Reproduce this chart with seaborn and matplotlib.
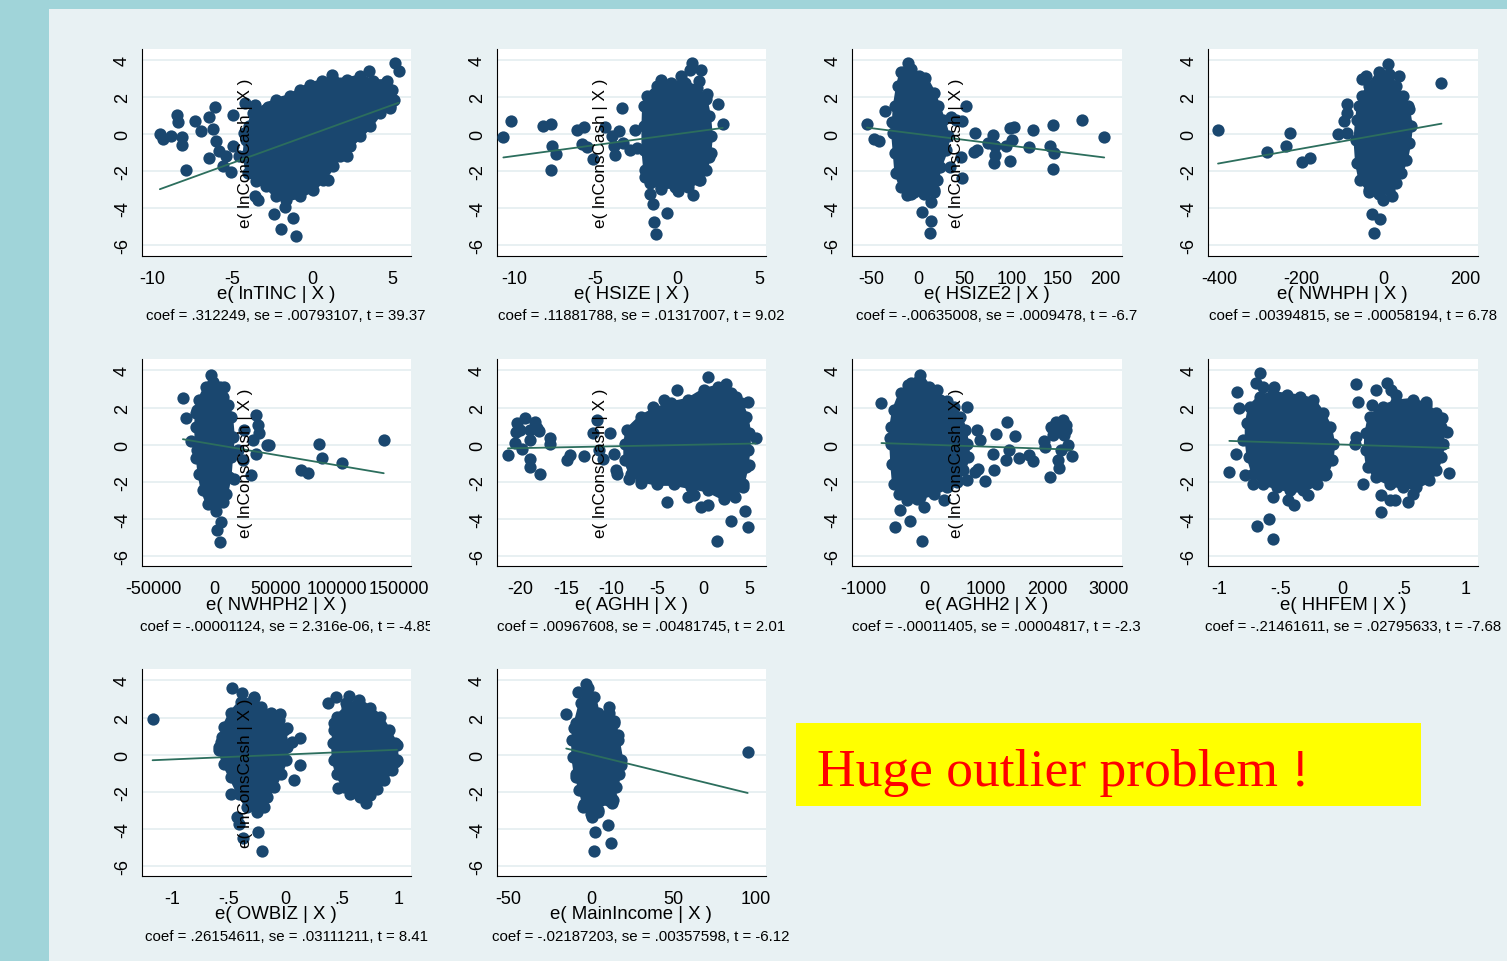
import matplotlib
matplotlib.use("Agg")
import matplotlib.pyplot as plt
from matplotlib.patches import Rectangle
from matplotlib.transforms import Bbox
import pandas as pd
import seaborn as sns

# ---------------------------------------------------------------------------
# Added-variable plots: e(lnConsCash | X) against e(regressor | X)
# ---------------------------------------------------------------------------
regressors = ["lnTINC", "HSIZE", "HSIZE2", "NWHPH", "NWHPH2",
              "AGHH", "AGHH2", "HHFEM", "OWBIZ", "MainIncome"]

coef_values = [0.312249, 0.11881788, -0.00635008, 0.00394815, -0.00001124,
               0.00967608, -0.00011405, -0.21461611, 0.26154611, -0.02187203]
coef_text = [".312249", ".11881788", "-.00635008", ".00394815", "-.00001124",
             ".00967608", "-.00011405", "-.21461611", ".26154611", "-.02187203"]
se_text = [".00793107", ".01317007", ".0009478", ".00058194", "2.316e-06",
           ".00481745", ".00004817", ".02795633", ".03111211", ".00357598"]
t_text = ["39.37", "9.02", "-6.7", "6.78", "-4.85",
          "2.01", "-2.3", "-7.68", "8.41", "-6.12"]

x_ticks = [[-10, -5, 0, 5], [-10, -5, 0, 5], [-50, 0, 50, 100, 150, 200],
           [-400, -200, 0, 200], [-50000, 0, 50000, 100000, 150000],
           [-20, -15, -10, -5, 0, 5], [-1000, 0, 1000, 2000, 3000],
           [-1, -0.5, 0, 0.5, 1], [-1, -0.5, 0, 0.5, 1], [-50, 0, 50, 100]]
x_tick_labels = [["-10", "-5", "0", "5"], ["-10", "-5", "0", "5"],
                 ["-50", "0", "50", "100", "150", "200"],
                 ["-400", "-200", "0", "200"],
                 ["-50000", "0", "50000", "100000", "150000"],
                 ["-20", "-15", "-10", "-5", "0", "5"],
                 ["-1000", "0", "1000", "2000", "3000"],
                 ["-1", "-.5", "0", ".5", "1"], ["-1", "-.5", "0", ".5", "1"],
                 ["-50", "0", "50", "100"]]
y_ticks = [-6, -4, -2, 0, 2, 4]
y_tick_labels = ["-6", "-4", "-2", "0", "2", "4"]

# dense cores (outline of the packed residual cloud) and isolated residuals
lnTINC_core = [(-3.93, 0.41), (-3.72, 1.14), (-2.25, 1.86), (-1.41, 2.04), (-0.78, 2.40),
               (-0.15, 2.67), (0.59, 2.85), (1.32, 2.94), (2.16, 2.94), (3.00, 3.12),
               (3.84, 2.85), (4.68, 2.85), (5.00, 2.40), (5.10, 1.86), (4.89, 1.50),
               (4.26, 1.14), (3.63, 0.41), (3.00, -0.13), (2.37, -0.67), (1.74, -1.21),
               (1.32, -1.75), (0.69, -2.47), (0.06, -3.01), (-0.78, -3.37), (-1.62, -3.55),
               (-2.25, -3.37), (-2.88, -2.83), (-3.51, -2.56), (-4.03, -2.11), (-4.24, -1.21),
               (-4.14, -0.31)]
lnTINC_other = [(-9.54, 0.00), (-9.33, -0.27), (-8.87, -0.13), (-8.45, 1.05), (-8.38, 0.63),
                (-8.13, -0.18), (-8.17, -0.61), (-7.92, -1.93), (-7.35, 0.72), (-6.97, 0.18),
                (-6.49, 0.92), (-6.07, 1.46), (-6.45, -1.30), (-6.24, 0.27), (-6.03, -0.40),
                (-5.82, -0.94), (-5.61, -1.75), (-4.98, 1.05), (-5.08, -2.07), (-3.61, 1.58),
                (-3.40, 0.95), (-2.77, 1.46), (-4.20, 1.68), (-3.61, -3.37), (-3.40, -3.55),
                (-2.39, -4.32), (-1.97, -5.13), (-1.20, -4.54), (-0.99, -5.53), (-1.72, -3.95),
                (1.26, 3.21), (3.57, 3.39), (5.21, 3.84), (5.42, 3.39), (2.16, -1.21),
                (1.00, -2.47), (4.64, 2.76), (4.89, 1.41), (4.26, 1.23), (-4.98, -0.67),
                (-4.56, -1.21), (-5.40, -1.21), (-4.24, 0.05)]

HSIZE_core = [(-1.86, 2.05), (-1.22, 2.60), (-0.38, 2.78), (0.46, 2.78), (1.20, 2.51),
              (1.73, 1.87), (1.94, 0.96), (2.05, -0.13), (1.94, -1.22), (1.73, -1.95),
              (1.41, -2.49), (0.68, -2.85), (-0.17, -2.85), (-1.01, -2.85), (-1.65, -2.67),
              (-1.96, -1.95), (-2.07, -0.85), (-2.07, 0.42), (-2.03, 1.51)]
HSIZE_other = [(-10.65, -0.16), (-10.19, 0.73), (-8.23, 0.45), (-7.76, 0.55), (-7.66, -0.64),
               (-7.45, -1.07), (-7.76, -1.95), (-6.12, 0.24), (-5.70, 0.36), (-5.86, -0.53),
               (-5.55, -0.71), (-5.17, -1.36), (-4.43, 0.38), (-3.38, 1.42), (-3.59, 0.15),
               (-3.97, -0.13), (-3.86, -0.67), (-3.80, -1.13), (-3.33, -0.49), (-2.91, -0.85),
               (-2.59, 0.24), (-2.49, -0.76), (0.89, 3.82), (0.78, 3.45), (1.48, 3.45),
               (1.31, 2.87), (0.21, 3.15), (-1.01, 2.91), (2.47, 1.60), (2.78, 0.55),
               (1.84, 2.15), (2.05, -1.04), (0.04, -3.07), (0.99, -3.31), (1.31, -2.49),
               (-1.96, -2.31), (-1.69, -3.22), (-1.48, -3.76), (-0.63, -4.27), (-1.43, -4.76),
               (-1.33, -5.40), (-1.01, -2.95)]

HSIZE2_core = [(-17.9, 3.33), (-7.6, 3.51), (1.0, 3.15), (7.9, 3.05), (16.6, 2.24),
               (21.7, 1.51), (26.9, 0.78), (32.1, -0.13), (30.3, -0.85), (23.4, -1.76),
               (20.0, -2.49), (16.6, -3.04), (6.2, -3.22), (-7.6, -3.22), (-17.9, -2.85),
               (-23.1, -2.13), (-24.8, -1.04), (-26.6, 0.05), (-24.8, 1.51), (-21.4, 2.60)]
HSIZE2_other = [(-54.8, 0.55), (-47.2, -0.27), (-41.4, -0.40), (-35.2, 1.27), (-28.3, 0.64),
                (-10.3, 3.82), (-14.5, 3.33), (6.9, 2.96), (51.0, 1.51), (46.9, 0.69),
                (61.4, 0.05), (59.7, -0.95), (63.1, -0.85), (80.3, -0.04), (75.2, -0.49),
                (82.1, -0.67), (82.1, -1.13), (81.4, -1.58), (94.1, -0.67), (98.6, 0.33),
                (102.8, 0.38), (101.0, -0.31), (98.6, -1.44), (119.3, -0.71), (122.8, 0.20),
                (141.4, -0.64), (144.8, 0.51), (145.9, -1.04), (144.8, -1.91), (175.9, 0.78),
                (199.3, -0.18), (46.9, -2.40), (33.8, -1.76), (45.9, -1.22), (13.8, -3.67),
                (4.5, -4.22), (13.8, -4.67), (13.1, -5.35), (-11.7, -3.31), (16.6, -3.13),
                (-4.1, -3.13), (35.5, 0.93), (40.7, 0.78)]

NWHPH_core = [(-51, 2.05), (-35, 2.60), (-11, 3.33), (14, 3.24), (30, 2.60), (47, 2.05),
              (59, 1.51), (67, 0.42), (63, -0.49), (55, -1.40), (42, -2.13), (30, -2.67),
              (14, -3.04), (-11, -3.22), (-35, -3.04), (-56, -2.49), (-64, -1.58),
              (-68, -0.31), (-64, 0.78), (-60, 1.51)]
NWHPH_other = [(-404, 0.20), (-284, -0.95), (-238, -0.67), (-229, 0.05), (-198, -1.49),
               (-180, -1.31), (-111, 0.00), (-88, 0.05), (-90, 1.60), (-90, 1.11),
               (-95, 0.69), (-51, 2.96), (-43, 3.15), (12, 3.78), (37, 3.15), (142, 2.75),
               (-27, -4.31), (-8, -4.58), (-23, -5.35), (-2, -3.58), (20, -3.36),
               (-35, -3.13), (63, 1.33), (59, 0.51)]

NWHPH2_core = [(-12200, 2.41), (-6800, 3.13), (-1400, 3.40), (4100, 3.13), (6800, 2.59),
               (10800, 2.14), (13500, 1.50), (14900, 0.42), (13500, -0.67), (12200, -1.76),
               (9500, -2.66), (6800, -3.11), (0, -3.29), (-5400, -3.20), (-9500, -2.48),
               (-12200, -1.57), (-14100, -0.31), (-14900, 0.96), (-14100, 1.86)]
NWHPH2_other = [(-25700, 2.50), (-23500, 1.41), (-18900, 0.20), (-14900, 1.68), (-15400, -0.71),
                (-2700, 3.76), (7600, 3.09), (33800, 1.59), (35100, 1.05), (35900, 0.63),
                (31100, 0.24), (33800, -0.52), (29700, -1.66), (42700, 0.00), (44600, 0.00),
                (70300, -1.36), (76200, -1.54), (85100, 0.05), (87300, -0.71), (104100, -1.00),
                (137800, 0.27), (1400, -3.60), (5400, -4.20), (2200, -4.60), (4100, -5.25),
                (16200, -1.85), (18900, -0.31), (23000, -0.85), (24300, 0.78)]

AGHH_core = [(-8.3, 0.78), (-6.8, 1.50), (-5.4, 1.86), (-3.5, 2.23), (-1.7, 2.41),
             (0.1, 2.95), (1.6, 3.13), (3.0, 2.77), (4.1, 2.23), (4.7, 1.50), (5.0, 0.60),
             (4.9, -0.31), (4.7, -1.21), (4.3, -2.11), (3.4, -2.84), (2.3, -2.93),
             (0.5, -2.48), (-1.4, -2.30), (-3.2, -2.12), (-5.0, -2.12), (-6.8, -1.94),
             (-7.9, -1.57), (-8.5, -0.85), (-8.5, 0.05)]
AGHH_other = [(-21.3, -0.54), (-20.3, 1.14), (-20.4, 0.69), (-20.5, 0.09), (-19.8, -0.22),
              (-19.4, 1.41), (-20.0, 0.78), (-18.9, 0.78), (-18.9, 0.24), (-18.9, -0.76),
              (-18.9, -1.21), (-18.3, 1.23), (-18.1, 0.87), (-17.9, 0.72), (-17.8, -1.57),
              (-16.7, 0.33), (-16.7, 0.05), (-14.9, -0.85), (-14.5, -0.54), (-13.0, -0.63),
              (-11.6, 1.32), (-12.0, 0.60), (-10.2, 0.60), (-10.9, -0.76), (-11.4, -0.31),
              (-9.7, -0.49), (-9.5, -1.36), (-9.4, -1.57), (-8.1, -1.85), (-6.8, -2.08),
              (-5.5, 2.05), (-4.3, 2.41), (-2.9, 2.95), (0.5, 3.67), (2.5, 3.28), (3.6, 2.59),
              (4.9, 2.32), (5.7, 0.33), (5.0, -1.12), (4.3, -2.30), (4.5, -3.57), (4.9, -4.47),
              (3.0, -4.14), (1.5, -5.19), (0.5, -3.29), (-0.3, -3.38), (-4.0, -3.08),
              (-1.7, -2.84), (-1.0, -2.75)]

AGHH2_core = [(-495, 1.86), (-387, 2.77), (-226, 3.31), (-65, 3.76), (70, 3.13), (258, 2.41),
              (473, 2.05), (581, 1.50), (661, 0.78), (688, 0.05), (715, -0.67), (634, -1.39),
              (527, -1.94), (366, -2.30), (151, -2.66), (-65, -2.84), (-280, -2.84),
              (-414, -2.66), (-495, -2.12), (-522, -1.03), (-538, 0.05), (-538, 0.96)]
AGHH2_other = [(-699, 2.26), (-559, 0.33), (-484, -4.47), (-398, -3.53), (-237, -4.14),
               (-38, -5.19), (0, -3.38), (-118, -2.93), (-290, -3.02), (-269, 3.22),
               (204, 2.95), (366, 2.35), (688, 2.01), (323, -3.02), (527, -2.03), (688, -1.94),
               (849, 0.78), (903, 0.27), (984, -1.97), (876, -1.30), (823, -1.48), (1172, 0.56),
               (1118, -0.52), (1344, 1.23), (1323, -0.81), (1376, -0.31), (1467, 0.47),
               (1129, -1.36), (1532, -0.71), (1699, -0.58), (1763, -0.90), (1952, 0.20),
               (1968, -0.13), (2043, -1.76), (2059, 0.96), (2140, 1.23), (2247, 1.32),
               (2301, 1.05), (2194, 0.78), (2086, 0.51), (2274, 0.51), (2301, 0.78),
               (2328, -0.04), (2398, -0.63), (2167, -0.85), (2194, -1.25), (2220, -0.31),
               (2097, 0.78)]

HHFEM_core_male = [(-0.747, 2.05), (-0.666, 2.59), (-0.558, 2.77), (-0.450, 2.68),
                   (-0.342, 2.59), (-0.235, 2.41), (-0.154, 1.68), (-0.100, 0.96),
                   (-0.073, 0.05), (-0.086, -0.85), (-0.127, -1.57), (-0.208, -2.12),
                   (-0.315, -2.48), (-0.423, -2.48), (-0.531, -2.30), (-0.639, -2.12),
                   (-0.720, -1.57), (-0.760, -0.67), (-0.774, 0.24), (-0.774, 1.14)]
HHFEM_core_female = [(0.224, 1.50), (0.332, 2.05), (0.439, 2.32), (0.574, 2.41), (0.682, 2.14),
                     (0.763, 1.68), (0.803, 0.96), (0.817, 0.05), (0.803, -0.67),
                     (0.763, -1.39), (0.709, -1.94), (0.601, -2.30), (0.493, -2.30),
                     (0.385, -2.12), (0.278, -1.76), (0.210, -1.21), (0.191, -0.31),
                     (0.197, 0.60)]
HHFEM_other = [(-0.916, -1.48), (-0.855, 2.86), (-0.841, 1.99), (-0.860, -0.49), (-0.806, 0.27),
               (-0.787, -1.67), (-0.720, -2.12), (-0.693, -4.38), (-0.666, 3.86),
               (-0.698, 3.31), (-0.639, 3.10), (-0.553, 3.13), (-0.590, -4.02),
               (-0.558, -5.10), (-0.558, -2.84), (-0.442, -2.97), (-0.391, -3.29),
               (-0.275, -2.75), (-0.181, 1.59), (-0.140, -1.67), (0.111, 3.28), (0.129, 2.32),
               (0.116, 0.42), (0.102, 0.05), (0.170, -2.12), (0.245, 2.14), (0.272, 2.95),
               (0.364, 3.31), (0.399, 2.95), (0.434, 2.68), (0.313, -2.75), (0.318, -3.66),
               (0.385, -2.99), (0.429, -3.02), (0.534, -3.08), (0.574, -2.66), (0.811, 1.41),
               (0.865, -1.54), (0.852, 0.69), (0.682, 2.32)]

OWBIZ_core_no = [(-0.544, 1.50), (-0.485, 2.23), (-0.397, 2.86), (-0.279, 3.04),
                 (-0.221, 2.59), (-0.132, 2.23), (-0.059, 1.86), (-0.015, 1.32),
                 (0.015, 0.42), (0.000, -0.31), (-0.044, -1.03), (-0.103, -1.76),
                 (-0.162, -2.30), (-0.191, -2.84), (-0.250, -3.11), (-0.338, -2.84),
                 (-0.412, -2.12), (-0.485, -1.21), (-0.544, -0.49), (-0.588, 0.42),
                 (-0.559, 0.96)]
OWBIZ_core_yes = [(0.456, 2.05), (0.544, 2.59), (0.647, 2.95), (0.750, 2.50), (0.838, 2.05),
                  (0.912, 1.32), (0.971, 0.60), (0.985, -0.31), (0.941, -0.85),
                  (0.868, -1.39), (0.809, -1.85), (0.750, -2.21), (0.662, -2.30),
                  (0.574, -2.12), (0.515, -1.76), (0.456, -1.03), (0.426, -0.31),
                  (0.421, 0.60), (0.432, 1.32)]
OWBIZ_other = [(-1.176, 1.92), (-0.476, 3.62), (-0.574, 0.69), (-0.588, 0.24), (-0.485, -2.12),
               (-0.426, -3.38), (-0.412, -3.75), (-0.374, -4.52), (-0.241, -4.20),
               (-0.206, -5.23), (-0.279, 3.13), (-0.382, 3.31), (-0.050, 2.19), (0.015, 1.41),
               (0.059, 0.69), (0.126, 0.92), (0.126, -0.58), (0.074, -1.36), (0.374, 2.81),
               (0.450, 3.13), (0.559, 3.17), (0.538, 2.81), (0.426, 1.68), (0.462, -1.81),
               (0.715, -2.61), (0.985, 0.51), (0.971, -0.40)]

MainIncome_core = [(-9.2, 1.68), (-6.1, 2.77), (-2.0, 3.58), (2.0, 3.13), (4.1, 2.23),
                   (6.1, 1.32), (8.2, 1.86), (11.2, 2.23), (14.3, 1.68), (16.3, 0.78),
                   (18.4, -0.31), (17.3, -1.03), (15.3, -1.76), (13.3, -2.48), (10.2, -2.48),
                   (8.2, -1.94), (6.1, -2.48), (4.1, -3.02), (0.0, -3.20), (-4.1, -2.66),
                   (-6.1, -1.94), (-9.2, -1.03), (-10.6, -0.13), (-10.6, 0.78)]
MainIncome_other = [(-14.9, 2.19), (-3.1, 3.82), (-7.8, 3.40), (11.2, 2.59), (14.3, 1.83),
                    (-10.2, 1.41), (-11.2, 0.78), (-9.2, -1.21), (-7.1, -1.94), (-4.5, -2.84),
                    (0.4, -3.35), (4.1, -3.11), (10.2, -3.80), (2.4, -4.20), (12.2, -4.80),
                    (2.0, -5.23), (12.7, -2.62), (12.2, -2.30), (18.4, -0.58), (94.9, 0.14),
                    (7.1, 0.81), (16.3, 1.05)]

cores = [[lnTINC_core], [HSIZE_core], [HSIZE2_core], [NWHPH_core], [NWHPH2_core],
         [AGHH_core], [AGHH2_core], [HHFEM_core_male, HHFEM_core_female],
         [OWBIZ_core_no, OWBIZ_core_yes], [MainIncome_core]]
others = [lnTINC_other, HSIZE_other, HSIZE2_other, NWHPH_other, NWHPH2_other,
          AGHH_other, AGHH2_other, HHFEM_other, OWBIZ_other, MainIncome_other]

# ---------------------------------------------------------------------------
# layout (pixels) and styling
# ---------------------------------------------------------------------------
W, H = 1507, 962
col_left = [141.5, 496.5, 852.0, 1208.0]
row_top = [49.5, 360.0, 670.0]
ax_w, ax_h = 269.5, 207.0
x_limits = [(-10.69, 6.19), (-11.07, 5.43), (-70.7, 217.8), (-428.5, 230.0),
            (-59400, 160000), (-22.55, 6.83), (-1178, 3205), (-1.089, 1.099),
            (-1.274, 1.109), (-57.1, 106.0)]
y_limits = (-6.56, 4.62)
show_ylabel = [True, True, True, False, True, True, True, False, True, False]

NAVY = "#1a476f"
FIT = "#2c6e5d"
GRID = "#e4edf0"
PANEL_BG = "#e8f1f3"
STRIP = "#a0d4d9"

sns.set_style("white")
plt.rcParams["font.family"] = ["Liberation Sans", "DejaVu Sans"]
plt.rcParams["axes.unicode_minus"] = False

fig = plt.figure(figsize=(W / 100, H / 100), dpi=100)
fig.patch.set_facecolor(PANEL_BG)
fig.add_artist(Rectangle((0, 0), 49 / W, 1, transform=fig.transFigure,
                         facecolor=STRIP, edgecolor="none", zorder=0))
fig.add_artist(Rectangle((0, 1 - 10 / H), 1, 10 / H, transform=fig.transFigure,
                         facecolor=STRIP, edgecolor="none", zorder=0))


def fx(px):
    return px / W


def fy(py):
    return 1 - py / H


for i, name in enumerate(regressors):
    r, c = divmod(i, 4)
    left, top = col_left[c], row_top[r]
    ax = fig.add_axes([fx(left), fy(top + ax_h), ax_w / W, ax_h / H])
    ax.set_facecolor("white")

    # packed core of the cloud
    core_pts = []
    for outline in cores[i]:
        ox = [p[0] for p in outline]
        oy = [p[1] for p in outline]
        ax.fill(ox, oy, facecolor=NAVY, edgecolor=NAVY, linewidth=3.0,
                joinstyle="round", zorder=2)
        core_pts.extend(outline)

    pts = pd.DataFrame(core_pts + others[i], columns=["x", "y"])
    sns.scatterplot(data=pts, x="x", y="y", ax=ax, color=NAVY, s=78,
                    linewidth=0, zorder=3, legend=False)

    # fitted slope through the origin of the residuals
    x_end = [pts["x"].min(), pts["x"].max()]
    fit = pd.DataFrame({"x": x_end, "y": [coef_values[i] * v for v in x_end]})
    sns.lineplot(data=fit, x="x", y="y", ax=ax, color=FIT, linewidth=1.3,
                 zorder=4, legend=False)

    ax.set_xlim(*x_limits[i])
    ax.set_ylim(*y_limits)
    ax.set_xticks(x_ticks[i])
    ax.set_xticklabels(x_tick_labels[i])
    ax.set_yticks(y_ticks)
    ax.set_yticklabels(y_tick_labels, rotation=90, va="center")
    ax.set_xlabel("")
    ax.set_ylabel("")
    ax.tick_params(axis="both", direction="out", length=4.6, width=0.8,
                   labelsize=13, colors="black")
    ax.tick_params(axis="x", pad=5.5)
    ax.tick_params(axis="y", pad=3)
    ax.yaxis.grid(True, color=GRID, linewidth=1.2, zorder=0)
    ax.xaxis.grid(False)
    ax.set_axisbelow(True)
    for side in ("top", "right"):
        ax.spines[side].set_visible(False)
    for side in ("left", "bottom"):
        ax.spines[side].set_color("black")
        ax.spines[side].set_linewidth(0.8)

    if show_ylabel[i]:
        ax.text(104 / ax_w, 0.5, "e( lnConsCash | X )", transform=ax.transAxes,
                rotation=90, ha="center", va="center", fontsize=12.3,
                color="black", zorder=6)

    cx = left + ax_w / 2
    bottom = top + ax_h
    fig.text(fx(cx), fy(bottom + 38), f"e( {name} | X )", ha="center",
             va="center", fontsize=13.4, color="black")
    note = fig.text(fx(cx + 10), fy(bottom + 60),
                    f"coef = {coef_text[i]}, se = {se_text[i]}, t = {t_text[i]}",
                    ha="center", va="center", fontsize=10.8, color="black")
    if name == "NWHPH2":
        note.set_clip_box(Bbox.from_extents(0, 0, 430, H))
        note.set_clip_on(True)

# call-out box
fig.add_artist(Rectangle((fx(796), fy(807)), (1421 - 796) / W, (807 - 724) / H,
                         transform=fig.transFigure, facecolor="#ffff00",
                         edgecolor="none", zorder=1))
fig.text(fx(817), fy(786), "Huge outlier problem !", ha="left", va="baseline",
         fontsize=38.5, color="#ff0000",
         family=["Liberation Serif", "DejaVu Serif"], zorder=2)

fig.savefig("out.png", dpi=100, facecolor=fig.get_facecolor())
